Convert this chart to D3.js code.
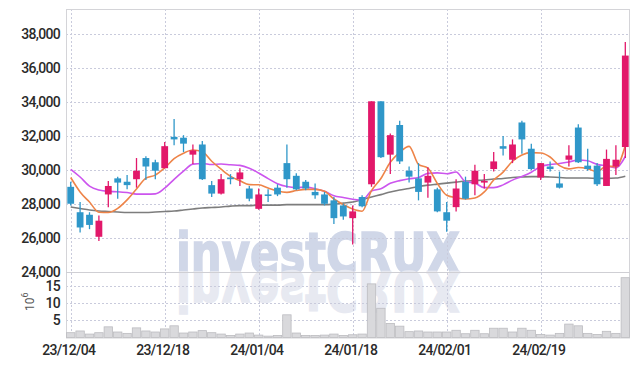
<!DOCTYPE html>
<html lang="en">
<head>
<meta charset="UTF-8" />
<title>Candlestick chart</title>
<script src="https://cdn.jsdelivr.net/npm/d3@7"></script>
<style>
  body { margin: 0; background: #fff; }
  svg text { font-family: Roboto, "Liberation Sans", sans-serif; }
</style>
</head>
<body>
<script>
// trading days
var dates = [
  "23/12/04","23/12/05","23/12/06","23/12/07","23/12/08","23/12/11","23/12/12","23/12/13","23/12/14","23/12/15",
  "23/12/18","23/12/19","23/12/20","23/12/21","23/12/22","23/12/26","23/12/27","23/12/28","24/01/02","24/01/03",
  "24/01/04","24/01/05","24/01/08","24/01/09","24/01/10","24/01/11","24/01/12","24/01/15","24/01/16","24/01/17",
  "24/01/18","24/01/19","24/01/22","24/01/23","24/01/24","24/01/25","24/01/26","24/01/29","24/01/30","24/01/31",
  "24/02/01","24/02/02","24/02/05","24/02/06","24/02/07","24/02/08","24/02/13","24/02/14","24/02/15","24/02/16",
  "24/02/19","24/02/20","24/02/21","24/02/22","24/02/23","24/02/26","24/02/27","24/02/28","24/02/29","24/03/04"
];
var open  = [29000,27500,27350,26050,28550,29500,29300,29450,30700,30450,
             30100,31950,31900,30900,31500,29100,28600,29550,29450,28900,
             27700,28550,28950,30400,29650,29300,28700,28550,28200,27900,
             27150,28400,29150,34050,30900,32650,29950,29500,29250,28850,
             27500,27800,29300,29150,29250,30050,31400,30600,32800,31250,
             29550,30200,29200,30600,32500,30250,30250,29050,30200,31350];
var high  = [29300,28100,27500,27300,29350,29600,29700,30700,30800,30600,
             31650,33000,32050,31500,31700,29350,29750,29750,30100,29050,
             28900,28850,29150,31500,29800,29400,29200,28700,28400,28000,
             27900,28500,34050,34050,32150,32900,30200,30400,30150,28950,
             28100,29450,29600,30300,29750,31050,32000,31800,32900,31550,
             30400,30500,29900,31450,32700,31250,30400,31200,31450,37550];
var low   = [27900,26300,26500,25800,27800,28300,28850,28950,29400,29450,
             30100,31450,31050,30350,29400,28400,28550,29150,29050,28150,
             27650,28100,28450,28950,28800,28800,28300,27900,26800,27050,
             25600,27800,29000,30700,29750,30350,29250,28200,28350,27500,
             26350,27550,28250,28500,28900,29900,30850,30400,30950,30000,
             29400,29900,28900,30200,30400,29950,29050,29050,29700,30700];
var close = [28000,26600,26750,27000,29050,29250,29100,29950,30200,29950,
             31400,31800,31550,31150,29450,28600,29450,29450,29850,28300,
             28550,28500,28550,29450,28850,28900,28500,28000,27150,27250,
             27550,27850,34050,30750,32050,30500,29600,28700,29650,27550,
             27000,28900,28300,29950,29350,30500,31250,31500,31800,30050,
             30400,30050,28950,30850,30450,30050,29150,30650,30600,36750];
// volume, millions of shares
var volume = [1.4,1.9,1.0,1.4,3.1,1.6,1.2,2.8,1.9,1.6,
              2.5,3.4,1.3,1.6,2.0,1.4,1.0,0.6,1.0,1.3,
              0.7,0.4,0.6,6.6,1.3,0.6,0.6,0.7,1.0,0.6,
              0.8,1.0,15.6,8.5,4.1,3.3,1.7,1.9,1.6,1.6,
              1.6,2.1,1.1,2.1,1.1,2.7,2.7,1.6,2.7,2.1,
              0.9,0.7,1.2,3.9,3.4,1.2,0.9,1.8,1.2,17.4];
// moving averages as drawn
var ma5  = [29550,28700,28100,27500,27480,27730,28230,28870,29510,29690,
            30120,30660,30980,31170,31070,30510,30040,29620,29360,29130,
            29120,28930,28750,28670,28780,28850,28850,28740,28280,27960,
            27690,27560,28770,29490,30450,31040,31390,30320,30100,29200,
            28500,28360,28280,28340,28700,29400,29870,30510,30880,31020,
            31000,30760,30250,30060,30140,30070,29890,30230,30180,31440];
var ma10 = [30030,29580,29040,28810,28730,28710,28660,28570,28570,28585,
            28925,29445,29925,30340,30380,30315,30350,30300,30265,30100,
            29815,29485,29185,29015,28955,28985,28890,28745,28475,28370,
            28270,28205,28755,28885,29205,29365,29475,29545,29795,29825,
            29770,29875,29300,29220,28950,28950,29115,29395,29610,29860,
            30200,30315,30380,30470,30580,30535,30325,30240,30120,30790];
var ma60 = [27810,27720,27630,27570,27540,27510,27480,27480,27480,27510,
            27540,27570,27630,27690,27750,27780,27810,27860,27890,27890,
            27920,27920,27920,27950,27950,27950,27950,27950,27980,28040,
            28100,28250,28400,28540,28690,28810,28900,29020,29100,29160,
            29220,29280,29340,29370,29400,29460,29490,29550,29580,29600,
            29600,29580,29550,29520,29520,29520,29500,29500,29520,29630];
var priceTicks = [24000,26000,28000,30000,32000,34000,36000,38000];
var volTicks = [5,10,15];
var dateTicks = ["23/12/04","23/12/18","24/01/04","24/01/18","24/02/01","24/02/19"];

var w = 639, h = 366;
var plotL = 66, plotR = 630, plotT = 9, plotMid = 271.5, plotB = 337.5;
var upColor = "#e2186a", downColor = "#2f97c9";

var svg = d3.select("body").append("svg").attr("width", w).attr("height", h);

var x = d3.scaleBand().domain(dates).range([plotL, plotR]).paddingInner(0);
var cx = function (i) { return x(dates[i]) + x.bandwidth() / 2; };
var y = d3.scaleLinear().domain([24000, 39500]).range([plotMid, plotT]);
var yv = d3.scaleLinear().domain([0, 19.2]).range([plotB, plotMid]);

// watermark and its reflection
var wm = svg.append("g");
wm.append("text")
  .attr("x", 176).attr("y", plotMid)
  .attr("textLength", 284).attr("lengthAdjust", "spacingAndGlyphs")
  .style("font-family", "'DejaVu Sans', sans-serif")
  .style("font-weight", "bold").style("font-size", "56px")
  .attr("fill", "#d0d7e8").attr("stroke", "#d0d7e8").attr("stroke-width", 1.6)
  .text("investCRUX");
wm.append("text")
  .attr("x", 176).attr("y", plotMid)
  .attr("textLength", 284).attr("lengthAdjust", "spacingAndGlyphs")
  .attr("transform", "translate(0," + (2 * plotMid) + ") scale(1,-1)")
  .style("font-family", "'DejaVu Sans', sans-serif")
  .style("font-weight", "bold").style("font-size", "56px")
  .attr("fill", "#e7e9f1").attr("stroke", "#e7e9f1").attr("stroke-width", 1.6)
  .text("investCRUX");

// grid
var grid = svg.append("g").attr("stroke", "#c9cbdc").attr("stroke-dasharray", "2,2").attr("stroke-width", 1);
grid.selectAll(".hp").data(priceTicks.slice(1)).enter().append("line")
  .attr("x1", plotL).attr("x2", plotR)
  .attr("y1", function (d) { return Math.round(y(d)) + 0.5; })
  .attr("y2", function (d) { return Math.round(y(d)) + 0.5; });
grid.selectAll(".hv").data(volTicks).enter().append("line")
  .attr("x1", plotL).attr("x2", plotR)
  .attr("y1", function (d) { return Math.round(yv(d)) + 0.5; })
  .attr("y2", function (d) { return Math.round(yv(d)) + 0.5; });
grid.selectAll(".vx").data(dateTicks).enter().append("line")
  .attr("x1", function (d) { return Math.round(x(d) + x.bandwidth() / 2) + 0.5; })
  .attr("x2", function (d) { return Math.round(x(d) + x.bandwidth() / 2) + 0.5; })
  .attr("y1", plotT).attr("y2", plotB);

// frame
svg.append("rect").attr("x", plotL + 0.5).attr("y", plotT + 0.5)
  .attr("width", plotR - plotL - 1).attr("height", plotB - plotT)
  .attr("fill", "none").attr("stroke", "#d4d4d8");
svg.append("line").attr("x1", plotL).attr("x2", plotR)
  .attr("y1", Math.round(plotMid) + 0.5).attr("y2", Math.round(plotMid) + 0.5)
  .attr("stroke", "#cfcfd4");

// volume bars
svg.append("g").selectAll("rect").data(volume).enter().append("rect")
  .attr("x", function (d, i) { return x(dates[i]) + 0.5; })
  .attr("width", x.bandwidth() - 1)
  .attr("y", function (d) { return yv(d); })
  .attr("height", function (d) { return plotB - yv(d); })
  .attr("fill", "#d9d9dc").attr("stroke", "#bcbcc0").attr("stroke-width", 0.8);

// moving averages
var line = function (arr) {
  return d3.line().x(function (d, i) { return cx(i); }).y(function (d) { return y(d); })
    .curve(d3.curveMonotoneX)(arr);
};
svg.append("path").attr("d", line(ma60)).attr("fill", "none").attr("stroke", "#7d7d7d").attr("stroke-width", 1.6);
svg.append("path").attr("d", line(ma10)).attr("fill", "none").attr("stroke", "#cc55ee").attr("stroke-width", 1.6);
svg.append("path").attr("d", line(ma5)).attr("fill", "none").attr("stroke", "#ee8448").attr("stroke-width", 1.6);

// candles
var candles = svg.append("g").selectAll("g").data(dates).enter().append("g");
candles.append("line")
  .attr("x1", function (d, i) { return cx(i); })
  .attr("x2", function (d, i) { return cx(i); })
  .attr("y1", function (d, i) { return y(high[i]); })
  .attr("y2", function (d, i) { return y(low[i]); })
  .attr("stroke", function (d, i) { return close[i] >= open[i] ? upColor : downColor; })
  .attr("stroke-width", 1.3);
candles.append("rect")
  .attr("x", function (d, i) { return cx(i) - 3.4; })
  .attr("width", 6.8)
  .attr("y", function (d, i) { return y(Math.max(open[i], close[i])); })
  .attr("height", function (d, i) { return Math.max(1.5, Math.abs(y(open[i]) - y(close[i]))); })
  .attr("fill", function (d, i) { return close[i] >= open[i] ? upColor : downColor; });

// axes labels
var lab = svg.append("g").attr("fill", "#2a2a2a").style("font-size", "14px")
  .style("font-weight", "500").style("letter-spacing", "-0.7px").attr("text-anchor", "end");
lab.selectAll(".pt").data(priceTicks).enter().append("text")
  .attr("x", 60).attr("y", function (d) { return y(d) + 5; })
  .text(d3.format(","));
lab.selectAll(".vt").data(volTicks).enter().append("text")
  .attr("x", 60).attr("y", function (d) { return yv(d) + 5; })
  .text(function (d) { return d; });
var unit = svg.append("text").attr("transform", "translate(34,311) rotate(-90)")
  .attr("fill", "#555").style("font-size", "12px");
unit.append("tspan").text("10");
unit.append("tspan").attr("dy", -6).style("font-size", "9px").text("6");

svg.append("g").selectAll("text").data(dateTicks).enter().append("text")
  .attr("x", function (d) { return x(d) + x.bandwidth() / 2 - 2; })
  .attr("y", 355)
  .attr("text-anchor", "middle").attr("fill", "#2a2a2a")
  .style("font-size", "14px").style("font-weight", "500").style("letter-spacing", "-0.7px")
  .text(function (d) { return d; });
</script>
</body>
</html>
